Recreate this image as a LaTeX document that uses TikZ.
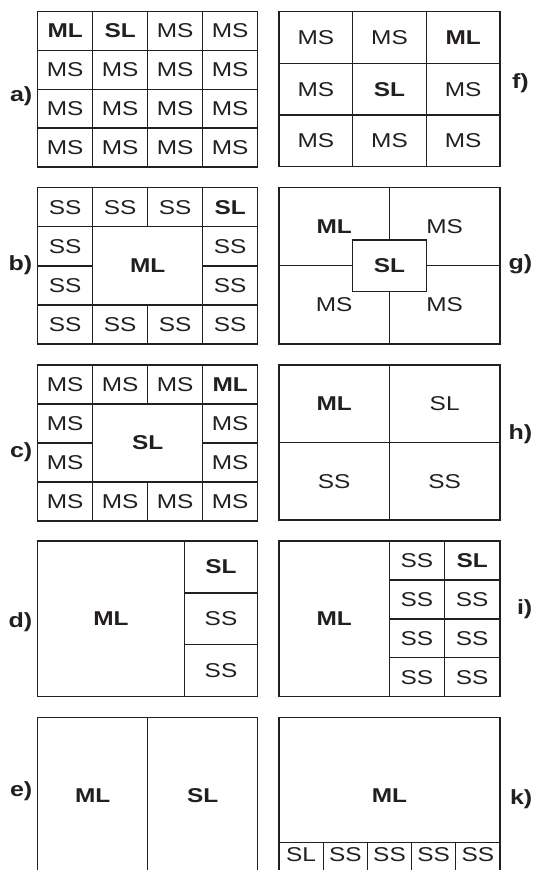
\documentclass[tikz,border=0pt]{standalone}
\usepackage{fontspec}
\setmainfont{Liberation Sans}[FakeStretch=1.22]
\definecolor{ink}{RGB}{35,31,32}
\newcommand\cellat[7]{%
  \pgfmathsetmacro\cellW{(#5)-(#3)}%
  \pgfmathsetmacro\cellH{(#6)-(#4)}%
  \node[#1, minimum width=\cellW pt, minimum height=\cellH pt] (#2) at ({((#3)+(#5))/2},{((#4)+(#6))/2}) {#7};}
\begin{document}
\begin{tikzpicture}[x=1pt,y=-1pt,
  cell/.style={draw=ink, line width=1.3pt, inner sep=0pt, text=ink, font=\fontsize{20}{20}\selectfont},
  cellb/.style={cell, font=\fontsize{20}{20}\selectfont\bfseries},
  lab/.style={inner sep=0pt, text=ink, font=\fontsize{20.5}{20.5}\selectfont\bfseries, anchor=base east}]
\useasboundingbox (0,0) rectangle (534,870);
\clip (0,0) rectangle (534,870);
% ---------- a ----------
\cellat{cellb}{a11}{37.7}{11.7}{92.7}{50.5}{ML}
\cellat{cellb}{a12}{92.7}{11.7}{147.7}{50.5}{SL}
\cellat{cell}{a13}{147.7}{11.7}{202.7}{50.5}{MS}
\cellat{cell}{a14}{202.7}{11.7}{257.7}{50.5}{MS}
\foreach \j in {1,2,3}{\foreach \i in {0,1,2,3}{
  \cellat{cell}{a\j\i}{37.7+55*\i}{11.7+38.8*\j}{37.7+55*(\i+1)}{11.7+38.8*(\j+1)}{MS}}}
\node[lab] (la) at (32.5,101) {a)};
% ---------- f ----------
\cellat{cell}{f11}{279}{11.7}{352.7}{63.3}{MS}
\cellat{cell}{f12}{352.7}{11.7}{426.3}{63.3}{MS}
\cellat{cellb}{f13}{426.3}{11.7}{500}{63.3}{ML}
\cellat{cell}{f21}{279}{63.3}{352.7}{115}{MS}
\cellat{cellb}{f22}{352.7}{63.3}{426.3}{115}{SL}
\cellat{cell}{f23}{426.3}{63.3}{500}{115}{MS}
\cellat{cell}{f31}{279}{115}{352.7}{166.7}{MS}
\cellat{cell}{f32}{352.7}{115}{426.3}{166.7}{MS}
\cellat{cell}{f33}{426.3}{115}{500}{166.7}{MS}
\node[lab] (lf) at (529,88) {f)};
% ---------- b ----------
\cellat{cell}{b11}{37.7}{187.7}{92.7}{226.8}{SS}
\cellat{cell}{b12}{92.7}{187.7}{147.7}{226.8}{SS}
\cellat{cell}{b13}{147.7}{187.7}{202.7}{226.8}{SS}
\cellat{cellb}{b14}{202.7}{187.7}{257.7}{226.8}{SL}
\cellat{cell}{b21}{37.7}{226.8}{92.7}{265.9}{SS}
\cellat{cell}{b31}{37.7}{265.9}{92.7}{304.9}{SS}
\cellat{cellb}{bm}{92.7}{226.8}{202.7}{304.9}{ML}
\cellat{cell}{b24}{202.7}{226.8}{257.7}{265.9}{SS}
\cellat{cell}{b34}{202.7}{265.9}{257.7}{304.9}{SS}
\cellat{cell}{b41}{37.7}{304.9}{92.7}{344}{SS}
\cellat{cell}{b42}{92.7}{304.9}{147.7}{344}{SS}
\cellat{cell}{b43}{147.7}{304.9}{202.7}{344}{SS}
\cellat{cell}{b44}{202.7}{304.9}{257.7}{344}{SS}
\node[lab] (lb) at (32.5,270) {b)};
% ---------- g ----------
\cellat{cellb}{g1}{279}{187.7}{389.3}{265.7}{ML}
\cellat{cell}{g2}{389.3}{187.7}{500}{265.7}{MS}
\cellat{cell}{g3}{279}{265.7}{389.3}{344}{MS}
\cellat{cell}{g4}{389.3}{265.7}{500}{344}{MS}
\cellat{cellb, fill=white}{gs}{352.7}{240}{426.3}{291.7}{SL}
\node[lab] (lg) at (532.5,269) {g)};
% ---------- c ----------
\cellat{cell}{c11}{37.7}{365}{92.7}{404}{MS}
\cellat{cell}{c12}{92.7}{365}{147.7}{404}{MS}
\cellat{cell}{c13}{147.7}{365}{202.7}{404}{MS}
\cellat{cellb}{c14}{202.7}{365}{257.7}{404}{ML}
\cellat{cell}{c21}{37.7}{404}{92.7}{443}{MS}
\cellat{cell}{c31}{37.7}{443}{92.7}{482}{MS}
\cellat{cellb}{cm}{92.7}{404}{202.7}{482}{SL}
\cellat{cell}{c24}{202.7}{404}{257.7}{443}{MS}
\cellat{cell}{c34}{202.7}{443}{257.7}{482}{MS}
\cellat{cell}{c41}{37.7}{482}{92.7}{521}{MS}
\cellat{cell}{c42}{92.7}{482}{147.7}{521}{MS}
\cellat{cell}{c43}{147.7}{482}{202.7}{521}{MS}
\cellat{cell}{c44}{202.7}{482}{257.7}{521}{MS}
\node[lab] (lc) at (32.5,457.7) {c)};
% ---------- h ----------
\cellat{cellb}{h1}{279}{365}{389.3}{442.5}{ML}
\cellat{cell}{h2}{389.3}{365}{500}{442.5}{SL}
\cellat{cell}{h3}{279}{442.5}{389.3}{520}{SS}
\cellat{cell}{h4}{389.3}{442.5}{500}{520}{SS}
\node[lab] (lh) at (532.5,439) {h)};
% ---------- d ----------
\cellat{cellb}{dm}{37.7}{541}{184.3}{696.7}{ML}
\cellat{cellb}{d1}{184.3}{541}{257.7}{592.9}{SL}
\cellat{cell}{d2}{184.3}{592.9}{257.7}{644.8}{SS}
\cellat{cell}{d3}{184.3}{644.8}{257.7}{696.7}{SS}
\node[lab] (ld) at (32.5,627.7) {d)};
% ---------- i ----------
\cellat{cellb}{im}{279}{541}{389.3}{696.7}{ML}
\cellat{cell}{i11}{389.3}{541}{444.3}{579.9}{SS}
\cellat{cellb}{i12}{444.3}{541}{500}{579.9}{SL}
\foreach \j in {1,2,3}{
  \cellat{cell}{i\j1}{389.3}{541+38.925*\j}{444.3}{541+38.925*(\j+1)}{SS}
  \cellat{cell}{i\j2}{444.3}{541+38.925*\j}{500}{541+38.925*(\j+1)}{SS}}
\node[lab] (li) at (532.5,614) {i)};
% ---------- e ----------
\cellat{cellb}{e1}{37.7}{717.7}{147.7}{874}{ML}
\cellat{cellb}{e2}{147.7}{717.7}{257.7}{874}{SL}
\node[lab] (le) at (32.5,796) {e)};
% ---------- k ----------
\cellat{cellb}{km}{279}{717.7}{500}{874}{ML}
\cellat{cell, text depth=7pt}{k1}{279}{842.7}{323.2}{874}{SL}
\foreach \i in {1,2,3,4}{
  \cellat{cell, text depth=7pt}{k\i x}{279+44.2*\i}{842.7}{279+44.2*(\i+1)}{874}{SS}}
\node[lab] (lk) at (532.5,804) {k)};
\end{tikzpicture}
\end{document}
